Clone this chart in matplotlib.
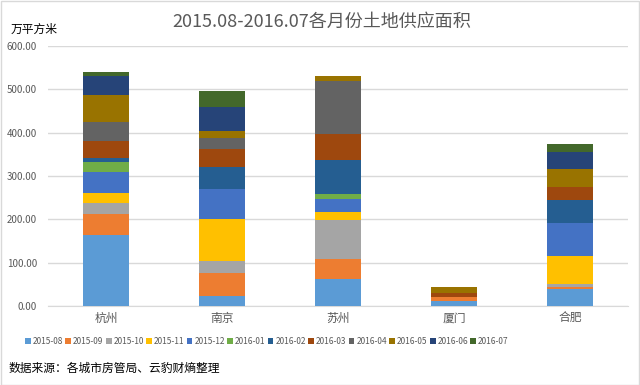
import numpy as np
import matplotlib.pyplot as plt
from matplotlib.patches import Rectangle

plt.rcParams['font.family'] = ['Noto Sans CJK SC', 'DejaVu Sans']

cities = ['杭州', '南京', '苏州', '厦门', '合肥']
months = ['2015-08', '2015-09', '2015-10', '2015-11', '2015-12', '2016-01',
          '2016-02', '2016-03', '2016-04', '2016-05', '2016-06', '2016-07']

m2015_08 = [165, 23, 62, 11, 39]
m2015_09 = [47, 54, 46, 11, 4]
m2015_10 = [26, 28, 91, 0, 7]
m2015_11 = [23, 97, 18, 0, 65]
m2015_12 = [49, 69, 29, 0, 77]
m2016_01 = [22, 0, 12, 0, 0]
m2016_02 = [10, 50, 79, 0, 53]
m2016_03 = [39, 42, 60, 9, 30]
m2016_04 = [43, 24, 123, 0, 0]
m2016_05 = [63, 18, 11, 12, 41]
m2016_06 = [44, 54, 0, 0, 39]
m2016_07 = [8, 38, 0, 0, 20]

series = [m2015_08, m2015_09, m2015_10, m2015_11, m2015_12, m2016_01,
          m2016_02, m2016_03, m2016_04, m2016_05, m2016_06, m2016_07]
colors = ['#5B9BD5', '#ED7D31', '#A5A5A5', '#FFC000', '#4472C4', '#70AD47',
          '#255E91', '#9E480E', '#636363', '#997300', '#264478', '#43682B']

fig = plt.figure(figsize=(6.4, 3.85), dpi=100)
ax = fig.add_axes([0.075, 0.205, 0.906, 0.6755])

x = np.arange(len(cities))
bottom = np.zeros(len(cities))
for name, vals, c in zip(months, series, colors):
    ax.bar(x, vals, 0.4, bottom=bottom, color=c, label=name, zorder=3)
    bottom += np.array(vals)

ax.set_xlim(-0.5, 4.5)
ax.set_ylim(0, 600)
ax.set_yticks(np.arange(0, 601, 100))
ax.set_yticklabels(['%.2f' % v for v in np.arange(0, 601, 100)], fontsize=7, color='#595959')
ax.set_xticks(x)
ax.set_xticklabels(cities, fontsize=8.5, color='#595959')
ax.tick_params(length=0, pad=4)
ax.tick_params(axis='y', pad=8)
ax.grid(axis='y', color='#d9d9d9', linewidth=1, zorder=0)
for s in ['top', 'right', 'left']:
    ax.spines[s].set_visible(False)
ax.spines['bottom'].set_color('#d9d9d9')

fig.text(0.502, 0.943, '2015.08-2016.07各月份土地供应面积', ha='center', va='center',
         fontsize=13, color='#595959')
fig.text(0.016, 0.925, '万平方米', ha='left', va='center', fontsize=8.5, color='#000000')
fig.text(0.013, 0.044, '数据来源：各城市房管局、云豹财熵整理', ha='left', va='center',
         fontsize=8.5, color='#000000')

leg = fig.legend(loc='center', bbox_to_anchor=(0.417, 0.114), ncol=12, frameon=False,
                 fontsize=6.0, handlelength=0.7, handleheight=0.7, handletextpad=0.25,
                 columnspacing=0.25, labelcolor='#595959')

fig.patches.append(Rectangle((0.001, 0.001), 0.997, 0.996, transform=fig.transFigure,
                             fill=False, edgecolor='#d9d9d9', linewidth=1))

fig.savefig('out.png', dpi=100)
